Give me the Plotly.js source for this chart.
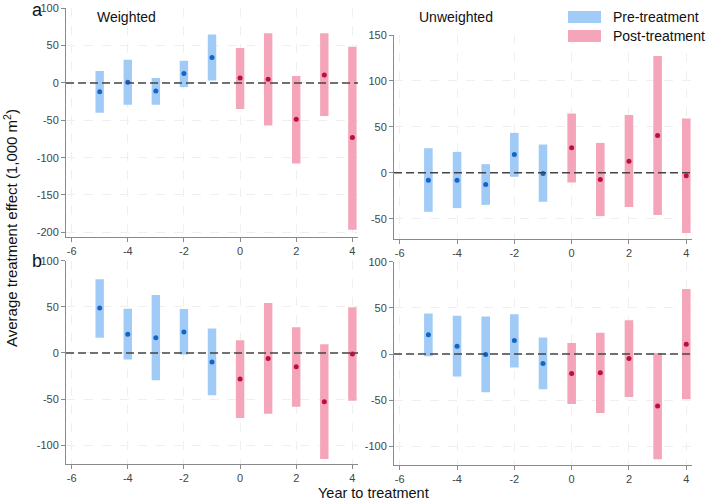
<!DOCTYPE html>
<html><head><meta charset="utf-8">
<script src="https://cdn.plot.ly/plotly-3.0.1.min.js"></script>
<style>body{margin:0;padding:0;background:#fff}#chart{width:711px;height:502px}</style>
</head><body><div id="chart"></div>
<script>
// Years to treatment
const preYears = [-5, -4, -3, -2, -1];
const postYears = [0, 1, 2, 3, 4];

// Panel a – Weighted
const aW_preEst = [-11.7, 1, -10.8, 12.6, 34.2];
const aW_preLo  = [-40, -29.3, -29.3, -5.4, 3.2];
const aW_preHi  = [16.2, 31, 6.8, 29.7, 64.9];
const aW_postEst = [6.8, 5, -48.6, 10.8, -73];
const aW_postLo  = [-34.7, -56.8, -107.7, -44.1, -196.4];
const aW_postHi  = [46.8, 66.7, 9.5, 66.7, 48.6];

// Panel a – Unweighted
const aU_preEst = [-8, -8, -12.7, 19.9, -0.7];
const aU_preLo  = [-42.4, -38.4, -34.8, -4.3, -31.5];
const aU_preHi  = [26.8, 22.8, 9.4, 43.5, 30.8];
const aU_postEst = [27.2, -7.2, 12.7, 40.6, -3.3];
const aU_postLo  = [-10.5, -47.1, -37.3, -46, -65.6];
const aU_postHi  = [64.5, 32.6, 63, 127.2, 59];

// Panel b – Weighted
const bW_preEst = [48.6, 20.3, 16.3, 22.8, -9.8];
const bW_preLo  = [16.3, -7.2, -29.7, -1.8, -46];
const bW_preHi  = [80, 47.8, 62.7, 47.5, 26.4];
const bW_postEst = [-28.3, -6.2, -14.9, -52.9, -1.1];
const bW_postLo  = [-70.7, -66, -58.3, -115.2, -51.8];
const bW_postHi  = [13.8, 54, 27.9, 9.4, 49.6];

// Panel b – Unweighted
const bU_preEst = [20.9, 8.6, -0.4, 14.7, -10.1];
const bU_preLo  = [-2.2, -24.1, -41.4, -14.4, -38.1];
const bU_preHi  = [43.9, 41.4, 40.6, 43.2, 18];
const bU_postEst = [-20.9, -20.1, -4.7, -56.1, 10.8];
const bU_postLo  = [-54, -63.7, -46.4, -113.7, -48.9];
const bU_postHi  = [11.9, 23, 36.7, 1.1, 70.5];

const xTicks = [-6, -4, -2, 0, 2, 4];
const legendLabels = ['Pre-treatment', 'Post-treatment'];
const panelTitles = ['Weighted', 'Unweighted'];

const preBar = '#a0cbf7', prePt = '#1565c8';
const postBar = '#f5a5ba', postPt = '#b8103f';

const panels = [
  {xa:'x', ya:'y',  d:[aW_preEst,aW_preLo,aW_preHi,aW_postEst,aW_postLo,aW_postHi]},
  {xa:'x2',ya:'y2', d:[aU_preEst,aU_preLo,aU_preHi,aU_postEst,aU_postLo,aU_postHi]},
  {xa:'x3',ya:'y3', d:[bW_preEst,bW_preLo,bW_preHi,bW_postEst,bW_postLo,bW_postHi]},
  {xa:'x4',ya:'y4', d:[bU_preEst,bU_preLo,bU_preHi,bU_postEst,bU_postLo,bU_postHi]}
];

const traces = [];
panels.forEach(p => {
  const [pe, pl, ph, qe, ql, qh] = p.d;
  traces.push({type:'bar', x:preYears, base:pl, y:ph.map((h,i)=>h-pl[i]), width:0.3,
    marker:{color:preBar, line:{width:0}}, xaxis:p.xa, yaxis:p.ya, showlegend:false, hoverinfo:'skip'});
  traces.push({type:'bar', x:postYears, base:ql, y:qh.map((h,i)=>h-ql[i]), width:0.3,
    marker:{color:postBar, line:{width:0}}, xaxis:p.xa, yaxis:p.ya, showlegend:false, hoverinfo:'skip'});
  traces.push({type:'scatter', mode:'markers', x:preYears, y:pe, marker:{color:prePt, size:5},
    xaxis:p.xa, yaxis:p.ya, showlegend:false});
  traces.push({type:'scatter', mode:'markers', x:postYears, y:qe, marker:{color:postPt, size:5},
    xaxis:p.xa, yaxis:p.ya, showlegend:false});
});

const tickFont = {family:'Liberation Sans, Arial, sans-serif', size:11, color:'#444'};
const gridCol = '#efefef';
function xax(dom, anchor){
  return {domain:dom, anchor:anchor, range:[-6.2,4.2], tickvals:xTicks, ticktext:xTicks.map(String),
    showline:true, linecolor:'#8a8a8a', linewidth:1, ticks:'outside', ticklen:4, tickcolor:'#8a8a8a',
    showgrid:true, gridcolor:gridCol, griddash:'dash', gridwidth:1, zeroline:false, tickfont:tickFont, fixedrange:true};
}
function yax(dom, anchor, range, tv){
  return {domain:dom, anchor:anchor, range:range, tickvals:tv, ticktext:tv.map(String),
    showline:true, linecolor:'#8a8a8a', linewidth:1, ticks:'outside', ticklen:4, tickcolor:'#8a8a8a',
    showgrid:true, gridcolor:gridCol, griddash:'dash', gridwidth:1, zeroline:false, tickfont:tickFont, fixedrange:true};
}

const xL = [66/711, 358/711], xR = [394/711, 692/711];
const layout = {
  width:711, height:502, margin:{l:0,r:0,t:0,b:0}, paper_bgcolor:'#fff', plot_bgcolor:'#fff',
  barmode:'overlay', showlegend:false, font:{family:'Liberation Sans, Arial, sans-serif'},
  xaxis: xax(xL,'y'),
  yaxis: yax([1-236.5/502, 1-8.3/502],'x',[-205.6,100],[-200,-150,-100,-50,0,50,100]),
  xaxis2: xax(xR,'y2'),
  yaxis2: yax([1-239/502, 1-35/502],'x2',[-72,150],[-50,0,50,100,150]),
  xaxis3: xax(xL,'y3'),
  yaxis3: yax([1-464/502, 1-260.7/502],'x3',[-120.5,100],[-100,-50,0,50,100]),
  xaxis4: xax(xR,'y4'),
  yaxis4: yax([1-465/502, 1-261.7/502],'x4',[-120,100],[-100,-50,0,50,100]),
  shapes: [],
  annotations: []
};
['','2','3','4'].forEach(s => {
  layout.shapes.push({type:'line', xref:'x'+s+' domain', yref:'y'+s, x0:0, x1:1, y0:0, y1:0,
    line:{color:'#444', width:1.5, dash:'8px,4px'}, layer:'above'});
});
// legend
layout.shapes.push({type:'rect', xref:'paper', yref:'paper', x0:568/711, x1:601/711, y0:1-23/502, y1:1-11/502, fillcolor:preBar, line:{width:0}});
layout.shapes.push({type:'rect', xref:'paper', yref:'paper', x0:568/711, x1:601/711, y0:1-42/502, y1:1-30/502, fillcolor:postBar, line:{width:0}});
const txt = {family:'Liberation Sans, Arial, sans-serif', color:'#111'};
layout.annotations.push({xref:'paper', yref:'paper', x:611/711, y:1-17/502, text:legendLabels[0], showarrow:false, xanchor:'left', yanchor:'middle', font:Object.assign({size:14},txt)});
layout.annotations.push({xref:'paper', yref:'paper', x:611/711, y:1-36/502, text:legendLabels[1], showarrow:false, xanchor:'left', yanchor:'middle', font:Object.assign({size:14},txt)});
// subtitles
layout.annotations.push({xref:'paper', yref:'paper', x:126/711, y:1-17/502, text:panelTitles[0], showarrow:false, xanchor:'center', yanchor:'middle', font:Object.assign({size:14},txt)});
layout.annotations.push({xref:'paper', yref:'paper', x:456/711, y:1-17/502, text:panelTitles[1], showarrow:false, xanchor:'center', yanchor:'middle', font:Object.assign({size:14},txt)});
// panel letters
layout.annotations.push({xref:'paper', yref:'paper', x:37/711, y:1-10/502, text:'a', showarrow:false, xanchor:'center', yanchor:'middle', font:Object.assign({size:18},txt)});
layout.annotations.push({xref:'paper', yref:'paper', x:37/711, y:1-261/502, text:'b', showarrow:false, xanchor:'center', yanchor:'middle', font:Object.assign({size:18},txt)});
// axis titles
layout.annotations.push({xref:'paper', yref:'paper', x:373/711, y:1-493/502, text:'Year to treatment', showarrow:false, xanchor:'center', yanchor:'middle', font:Object.assign({size:14.5},txt)});
layout.annotations.push({xref:'paper', yref:'paper', x:10/711, y:1-228/502, text:'Average treatment effect (1,000 m<sup>2</sup>)', textangle:-90, showarrow:false, xanchor:'center', yanchor:'middle', font:Object.assign({size:15},txt)});

Plotly.newPlot('chart', traces, layout, {displayModeBar:false, staticPlot:true});
</script></body></html>
